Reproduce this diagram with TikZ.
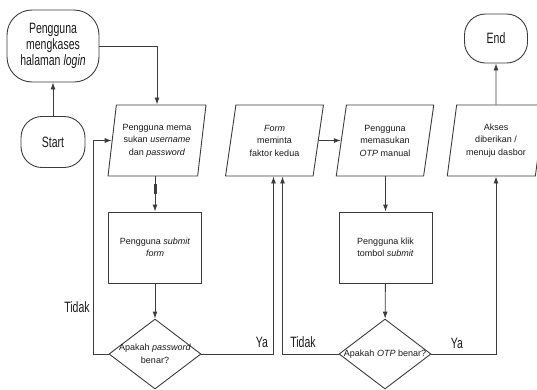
\documentclass[tikz,border=0pt]{standalone}
\usepackage{fontspec}
\setmainfont{Liberation Sans}
\newfontfamily\NarrowFont[FakeStretch=0.7]{Liberation Sans}
\usepackage{xcolor}
\definecolor{Col1}{RGB}{60,60,60}
\definecolor{Col2}{RGB}{25,25,25}
\usepackage{tikz}
\usetikzlibrary{shapes}
\usetikzlibrary{arrows.meta}
\tikzstyle{BigText}=[font=\NarrowFont\fontsize{15}{16}\selectfont,text=Col2]
\tikzstyle{SmallText}=[font=\fontsize{9}{12.5}\selectfont,text=Col2]
\tikzstyle{Terminal}=[rectangle,rounded corners=21pt,draw=Col1,line width=0.9pt,
align=center,inner sep=0pt,BigText]
\tikzstyle{InOut}=[trapezium,trapezium left angle=78,trapezium right angle=102,
trapezium stretches=true,minimum width=98pt,minimum height=71pt,inner sep=0pt,
draw=Col1,line width=0.9pt,align=center,SmallText]
\tikzstyle{Process}=[rectangle,minimum width=93pt,minimum height=71pt,inner sep=0pt,
draw=Col1,line width=0.9pt,align=center,SmallText]
\tikzstyle{Decision}=[diamond,minimum width=92pt,minimum height=70pt,inner sep=0pt,
draw=Col1,line width=0.9pt]
\tikzstyle{DecisionText}=[align=center,inner sep=0pt,SmallText]
\tikzstyle{Edge}=[draw=Col1,line width=0.9pt,-{Latex[length=7pt,width=5pt]}]
\tikzstyle{Tick}=[rectangle,fill=Col1!70,draw=Col1,line width=0.5pt,inner sep=0pt,
minimum width=2.5pt,minimum height=9pt]
\tikzstyle{EdgeLabel}=[inner sep=0pt,BigText]

\begin{document}
\begin{tikzpicture}[x=1pt,y=1pt]
        \useasboundingbox(0,0)rectangle(537,-389);
        % terminals
        \node[Terminal,rounded corners=25pt,minimum width=92pt,minimum height=72pt]
            (login)at(53.00,-46.00){Pengguna\\mengkases\\halaman \textit{login}};
        \node[Terminal,minimum width=64pt,minimum height=51pt](start)at(53.00,-142.00){Start};
        \node[Terminal,minimum width=63pt,minimum height=49pt](end)at(496.00,-38.50){End};
        % input / output
        \node[InOut](p1)at(157.00,-140.50)
            {Pengguna mema\\sukan \textit{username}\\dan \textit{password}};
        \node[InOut](p2)at(274.50,-140.50){\textit{Form}\\meminta\\faktor kedua};
        \node[InOut](p3)at(385.00,-140.50){Pengguna\\memasukan\\\textit{OTP} manual};
        \node[InOut](p4)at(496.00,-140.50){Akses\\diberikan /\\menuju dasbor};
        % process
        \node[Process](r1)at(155.00,-247.50){Pengguna \textit{submit}\\\textit{form}};
        \node[Process](r2)at(385.50,-247.50){Pengguna klik\\tombol \textit{submit}};
        % decisions
        \node[Decision,label={[DecisionText]center:{Apakah \textit{password}\\benar?}}]
            (d1)at(155.00,-354.00){};
        \node[Decision,label={[DecisionText]center:{Apakah \textit{OTP} benar?}}]
            (d2)at(385.00,-354.00){};
        \node[Tick](k)at(155.00,-188.50){};
        % labels
        \node[EdgeLabel](t1)at(77.00,-307.00){Tidak};
        \node[EdgeLabel](y1)at(262.00,-342.00){Ya};
        \node[EdgeLabel](t2)at(303.00,-342.00){Tidak};
        \node[EdgeLabel](y2)at(457.00,-343.00){Ya};
        % edges
        \draw[Edge](start)--(login);
        \draw[Edge](login.east)-|(p1.north);
        \draw[Edge](p1.south-|r1.north)--(r1.north);
        \draw[Edge](r1)--(d1);
        \draw[Edge](d1.west)--++(-15,0)|-(p1.west);
        \draw[Edge](d1.east)-|([xshift=-1pt]p2.south);
        \draw[Edge](d2.west)-|([xshift=8pt]p2.south);
        \draw[Edge](p2.east)--(p3.west);
        \draw[Edge](p3.south-|r2.north)--(r2.north);
        \draw[Edge](r2)--(d2);
        \draw[Edge](d2.east)-|(p4.south);
        \draw[Edge](p4)--(end);
    \end{tikzpicture}
\end{document}
